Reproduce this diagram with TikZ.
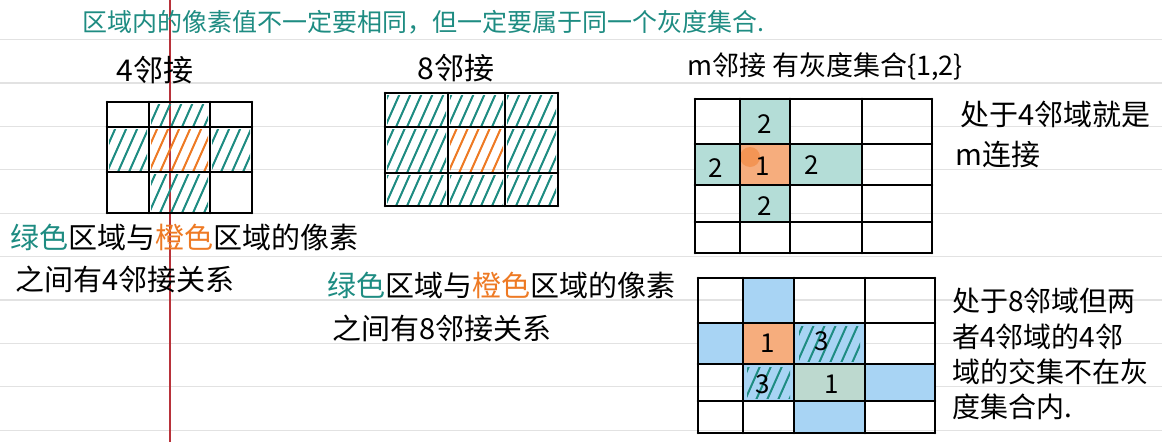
\documentclass[tikz,border=0pt]{standalone}
\usepackage{fontspec}
\newfontfamily\cjk{Noto Sans CJK SC}
\usepackage{xcolor}
\usetikzlibrary{positioning}
\definecolor{inkteal}{HTML}{1E8C82}
\definecolor{inkorange}{HTML}{EE7A24}
\definecolor{washteal}{HTML}{B4DDD7}
\definecolor{washorange}{HTML}{F6AD7D}
\definecolor{blotorange}{HTML}{F38B45}
\definecolor{washblue}{HTML}{A8D4F4}
\definecolor{washgreen}{HTML}{BDD9CF}
\definecolor{ruleline}{HTML}{E2E2E2}
\definecolor{marginred}{HTML}{B8323A}
\tikzset{
  gridline/.style={line width=2.6pt, line cap=round},
  hatchline/.style={line width=2pt, line cap=round},
  hand/.style={font=\cjk\fontsize{29}{35}\selectfont, inner sep=0pt, anchor=west},
  digit/.style={font=\cjk\fontsize{26}{26}\selectfont, inner sep=0pt},
}
\newcommand{\hatchcell}[5]{%
  \begin{scope}
    \clip (#1+2,#2+2) rectangle (#3-2,#4-2);
    \foreach \k in {-44,-33,...,80}
      \draw[hatchline, #5] (#1+\k,#4) -- ++(40,-90);
  \end{scope}}

\begin{document}
\begin{tikzpicture}[x=1pt, y=-1pt]
    \useasboundingbox (0,0) rectangle (1172,442);
    \fill[white] (0,0) rectangle (1172,442);
    \foreach \r in {0,...,9}
        \draw[ruleline, line width=1.2pt] (0,{39.6+43.4*\r}) -- (1162,{39.6+43.4*\r});
    \draw[marginred, line width=1.3pt] (170,0) -- (170,442);

    \node[hand, font=\cjk\fontsize{25}{30}\selectfont, text=inkteal] (title) at (82,22)
        {区域内的像素值不一定要相同，但一定要属于同一个灰度集合.};

    % 4 neighbours
    \node[hand, anchor=center, font=\cjk\fontsize{30}{30}\selectfont] (lbl4) at (155,70) {4邻接};
    \foreach \c/\d/\e/\f in {149/102/210/127, 107/127/149/172, 210/127/252/172, 149/172/210/213}
        \hatchcell{\c}{\d}{\e}{\f}{inkteal};
    \hatchcell{149}{127}{210}{172}{inkorange};
    \foreach \x in {107,149,210,252} \draw[gridline] (\x,102) -- (\x,213);
    \foreach \y in {102,127,172,213} \draw[gridline] (107,\y) -- (252,\y);
    \node[hand] (txt4a) at (10,237) {\textcolor{inkteal}{绿色}区域与\textcolor{inkorange}{橙色}区域的像素};
    \node[hand] (txt4b) at (15,279) {之间有4邻接关系};

    % 8 neighbours
    \node[hand, anchor=center, font=\cjk\fontsize{30}{30}\selectfont] (lbl8) at (456,68) {8邻接};
    \foreach \c/\d/\e/\f in {385/93/448/127, 448/93/505/127, 505/93/558/127,
                             385/127/448/173, 505/127/558/173,
                             385/173/448/206, 448/173/505/206, 505/173/558/206}
        \hatchcell{\c}{\d}{\e}{\f}{inkteal};
    \hatchcell{448}{127}{505}{173}{inkorange};
    \foreach \x in {385,448,505,558} \draw[gridline] (\x,93) -- (\x,206);
    \foreach \y in {93,127,173,206} \draw[gridline] (385,\y) -- (558,\y);
    \node[hand] (txt8a) at (327,285) {\textcolor{inkteal}{绿色}区域与\textcolor{inkorange}{橙色}区域的像素};
    \node[hand] (txt8b) at (332,328) {之间有8邻接关系};

    % m adjacency
    \node[hand, font=\cjk\fontsize{27}{30}\selectfont] (lblm) at (687,67) {m邻接\ 有灰度集合\{1,2\}};
    \fill[washteal] (740,99) rectangle (790,222);
    \fill[washteal] (695,144) rectangle (862,185);
    \fill[washorange] (740,144) rectangle (790,185);
    \fill[blotorange, opacity=0.7] (750,157) circle (10);
    \foreach \x in {695,740,790,862,932} \draw[gridline] (\x,99) -- (\x,253);
    \foreach \y in {99,144,185,222,253} \draw[gridline] (695,\y) -- (932,\y);
    \node[digit] (m1) at (765,124) {2};
    \node[digit] (m2) at (716,168) {2};
    \node[digit] (m3) at (763,166) {1};
    \node[digit] (m4) at (812,165) {2};
    \node[digit] (m5) at (765,206) {2};
    \node[hand] (mnoteA) at (960,114) {处于4邻域就是};
    \node[hand] (mnoteB) at (955,155) {m连接};

    \fill[washblue] (743,278) rectangle (794,323);
    \fill[washblue] (698,323) rectangle (865,364);
    \fill[washblue] (743,364) rectangle (935,401);
    \fill[washblue] (794,401) rectangle (865,433);
    \fill[washorange] (743,323) rectangle (794,364);
    \fill[washgreen] (794,364) rectangle (865,401);
    \hatchcell{797}{324}{862}{363}{inkteal};
    \hatchcell{745}{365}{792}{400}{inkteal};
    \foreach \x in {698,743,794,865,935} \draw[gridline] (\x,278) -- (\x,433);
    \foreach \y in {278,323,364,401,433} \draw[gridline] (698,\y) -- (935,\y);
    \node[digit] (n1) at (768,343) {1};
    \node[digit] (n2) at (822,341) {3};
    \node[digit] (n3) at (763,384) {3};
    \node[digit] (n4) at (832,384) {1};
    \node[hand, font=\cjk\fontsize{28}{35}\selectfont] (note8a) at (952,301) {处于8邻域但两};
    \node[hand, font=\cjk\fontsize{28}{35}\selectfont] (note8b) at (952,337) {者4邻域的4邻};
    \node[hand, font=\cjk\fontsize{28}{35}\selectfont] (note8c) at (952,372) {域的交集不在灰};
    \node[hand, font=\cjk\fontsize{28}{35}\selectfont] (note8d) at (952,407) {度集合内.};
\end{tikzpicture}
\end{document}
